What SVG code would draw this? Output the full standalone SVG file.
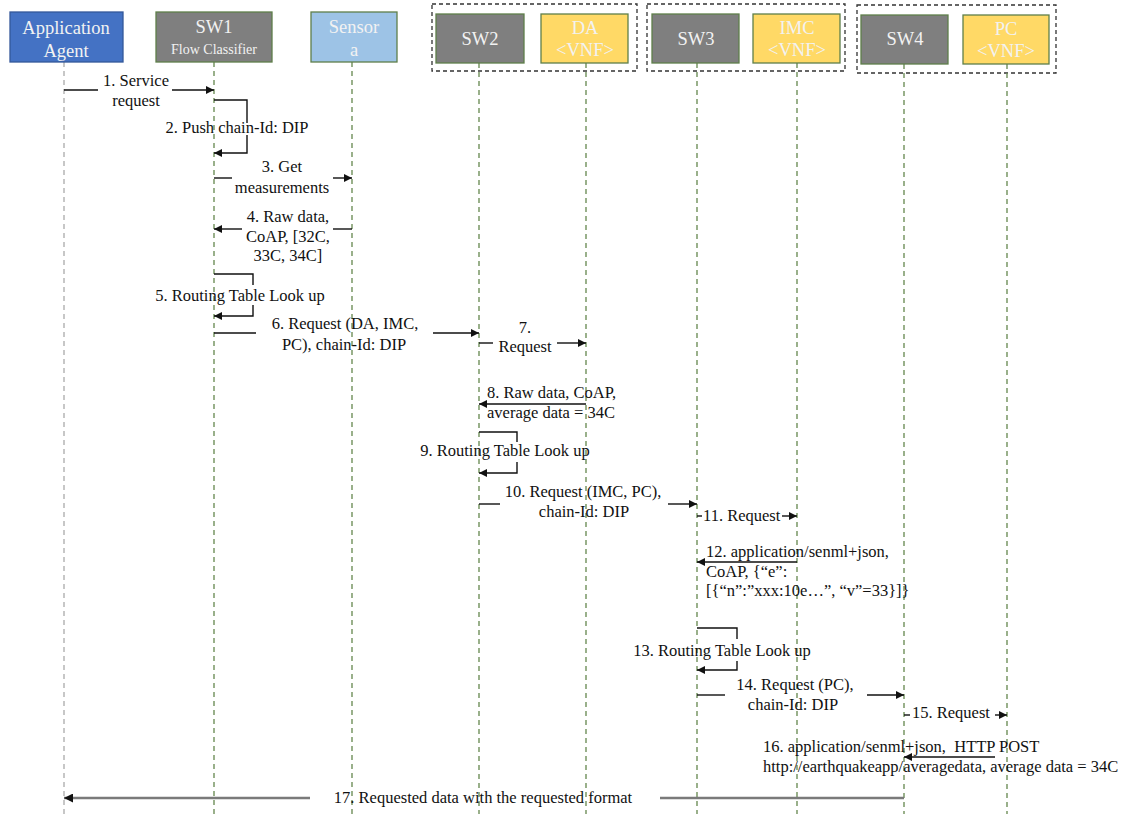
<svg xmlns="http://www.w3.org/2000/svg" width="1123" height="814" viewBox="0 0 1123 814">
<style>
.t{font-family:"Liberation Serif","Times New Roman",serif;font-size:16.5px;fill:#111}
.h{font-family:"Liberation Serif","Times New Roman",serif;font-size:18.5px;fill:#f2f2f2;text-anchor:middle}
.s{font-family:"Liberation Serif","Times New Roman",serif;font-size:14px;fill:#f2f2f2;text-anchor:middle}
.m{text-anchor:middle}
.box{stroke:#5f7f4a;stroke-width:1.3}
.grp{fill:none;stroke:#333;stroke-width:1.3;stroke-dasharray:4,3}
.ll{stroke:#6f8f5a;stroke-width:1.4;stroke-dasharray:5,4;fill:none}
.msg{stroke:#111;stroke-width:1.4;fill:none}
.arr{marker-end:url(#ah)}
</style>
<defs>
<marker id="ah" viewBox="0 0 10 10" refX="10" refY="5" markerWidth="9" markerHeight="8" markerUnits="userSpaceOnUse" orient="auto">
<path d="M0,0 L10,5 L0,10 z" fill="#111"/>
</marker>
<marker id="ah2" viewBox="0 0 10 10" refX="10" refY="5" markerWidth="10" markerHeight="9" markerUnits="userSpaceOnUse" orient="auto">
<path d="M0,0 L10,5 L0,10 z" fill="#111"/>
</marker>
</defs>
<rect width="1123" height="814" fill="#fff"/>

<g id="groups">
<rect class="grp" x="432" y="4" width="205" height="67"/>
<rect class="grp" x="647" y="4" width="198" height="67"/>
<rect class="grp" x="857" y="5" width="199" height="68"/>
</g>

<g id="lifelines">
<line class="ll" x1="64" y1="62" x2="64" y2="814" style="stroke:#b0b0b0"/>
<line class="ll" x1="214" y1="62" x2="214" y2="814"/>
<line class="ll" x1="352" y1="62" x2="352" y2="814"/>
<line class="ll" x1="479" y1="63" x2="479" y2="814"/>
<line class="ll" x1="586" y1="63" x2="586" y2="814"/>
<line class="ll" x1="697" y1="63" x2="697" y2="814"/>
<line class="ll" x1="797" y1="63" x2="797" y2="814"/>
<line class="ll" x1="904" y1="64" x2="904" y2="814"/>
<line class="ll" x1="1007" y1="64" x2="1007" y2="814"/>
</g>

<g id="app-agent">
<rect class="box" x="10" y="12" width="113" height="50" fill="#4472C4" style="stroke:#34589a"/>
<text class="h" x="66" y="34">Application</text>
<text class="h" x="66" y="57">Agent</text>
</g>
<g id="sw1">
<rect class="box" x="156" y="12" width="116" height="50" fill="#7F7F7F"/>
<text class="h" x="214" y="33">SW1</text>
<text class="s" x="214" y="54">Flow Classifier</text>
</g>
<g id="sensor">
<rect class="box" x="311" y="12" width="86" height="50" fill="#9DC3E6"/>
<text class="h" x="354" y="33">Sensor</text>
<text class="h" x="354" y="56">a</text>
</g>
<g id="sw2">
<rect class="box" x="436" y="14" width="88" height="49" fill="#7F7F7F"/>
<text class="h" x="480" y="45">SW2</text>
</g>
<g id="da">
<rect class="box" x="541" y="14" width="87" height="49" fill="#FFD966"/>
<text class="h" x="585" y="34">DA</text>
<text class="h" x="585" y="56">&lt;VNF&gt;</text>
</g>
<g id="sw3">
<rect class="box" x="652" y="14" width="87" height="49" fill="#7F7F7F"/>
<text class="h" x="696" y="45">SW3</text>
</g>
<g id="imc">
<rect class="box" x="753" y="14" width="87" height="49" fill="#FFD966"/>
<text class="h" x="797" y="34">IMC</text>
<text class="h" x="797" y="56">&lt;VNF&gt;</text>
</g>
<g id="sw4">
<rect class="box" x="861" y="15" width="87" height="49" fill="#7F7F7F"/>
<text class="h" x="905" y="45">SW4</text>
</g>
<g id="pc">
<rect class="box" x="963" y="15" width="86" height="49" fill="#FFD966"/>
<text class="h" x="1006" y="35">PC</text>
<text class="h" x="1006" y="57">&lt;VNF&gt;</text>
</g>

<g id="connectors">
<!-- 1 -->
<line class="msg" x1="64" y1="90" x2="98" y2="90"/>
<line class="msg arr" x1="172" y1="90" x2="214" y2="90"/>
<text class="t m" x="136" y="86">1. Service</text>
<text class="t m" x="136" y="106">request</text>
<!-- 2 -->
<polyline class="msg" points="214,100 247,100 247,123"/>
<polyline class="msg arr" points="247,135 247,153 214,153"/>
<text class="t m" x="237" y="133">2. Push chain-Id: DIP</text>
<!-- 3 -->
<line class="msg" x1="214" y1="178" x2="232" y2="178"/>
<line class="msg arr" x1="333" y1="178" x2="352" y2="178"/>
<text class="t m" x="282" y="172">3. Get</text>
<text class="t m" x="282" y="193">measurements</text>
<!-- 4 -->
<line class="msg" x1="352" y1="229" x2="333" y2="229"/>
<line class="msg arr" x1="242" y1="229" x2="214" y2="229"/>
<text class="t m" x="288" y="222">4. Raw data,</text>
<text class="t m" x="288" y="242">CoAP, [32C,</text>
<text class="t m" x="288" y="261">33C, 34C]</text>
<!-- 5 -->
<polyline class="msg" points="214,274 253,274 253,285"/>
<polyline class="msg arr" points="253,305 253,316 214,316"/>
<text class="t m" x="240" y="301">5. Routing Table Look up</text>
<!-- 6 -->
<line class="msg" x1="214" y1="333" x2="256" y2="333"/>
<line class="msg arr" x1="433" y1="333" x2="479" y2="333"/>
<text class="t m" x="345" y="329">6. Request (DA, IMC,</text>
<text class="t m" x="344" y="350">PC), chain-Id: DIP</text>
<!-- 7 -->
<line class="msg" x1="479" y1="343" x2="493" y2="343"/>
<line class="msg arr" x1="557" y1="343" x2="586" y2="343"/>
<text class="t m" x="525" y="333">7.</text>
<text class="t m" x="525" y="352">Request</text>
<!-- 8 -->
<line class="msg arr" x1="586" y1="404" x2="479" y2="404"/>
<text class="t" x="487" y="398">8. Raw data, CoAP,</text>
<text class="t" x="487" y="418">average data = 34C</text>
<!-- 9 -->
<polyline class="msg" points="479,432 517,432 517,442"/>
<polyline class="msg arr" points="517,462 517,473 479,473"/>
<text class="t m" x="505" y="456">9. Routing Table Look up</text>
<!-- 10 -->
<line class="msg" x1="479" y1="504" x2="500" y2="504"/>
<line class="msg arr" x1="668" y1="504" x2="697" y2="504"/>
<text class="t m" x="583" y="497">10. Request (IMC, PC),</text>
<text class="t m" x="584" y="517">chain-Id: DIP</text>
<!-- 11 -->
<line class="msg" x1="697" y1="516" x2="702" y2="516"/>
<line class="msg arr" x1="782" y1="516" x2="797" y2="516"/>
<text class="t" x="703" y="521">11. Request</text>
<!-- 12 -->
<line class="msg arr" x1="797" y1="562" x2="697" y2="562"/>
<text class="t" x="706" y="557">12. application/senml+json,</text>
<text class="t" x="706" y="577">CoAP, {“e”:</text>
<text class="t" x="706" y="596">[{“n”:”xxx:10e…”, “v”=33}]}</text>
<!-- 13 -->
<polyline class="msg" points="697,628 737,628 737,639"/>
<polyline class="msg arr" points="737,661 737,670 697,670"/>
<text class="t m" x="722" y="656">13. Routing Table Look up</text>
<!-- 14 -->
<line class="msg" x1="697" y1="695" x2="725" y2="695"/>
<line class="msg arr" x1="867" y1="695" x2="904" y2="695"/>
<text class="t m" x="795" y="690">14. Request (PC),</text>
<text class="t m" x="793" y="710">chain-Id: DIP</text>
<!-- 15 -->
<line class="msg" x1="904" y1="715" x2="910" y2="715"/>
<line class="msg arr" x1="995" y1="715" x2="1007" y2="715"/>
<text class="t" x="912" y="718">15. Request</text>
<!-- 16 -->
<line class="msg arr" x1="995" y1="757" x2="904" y2="757"/>
<text class="t" x="763" y="752">16. application/senml+json,&#160; HTTP POST</text>
<text class="t" x="763" y="772">http://earthquakeapp/averagedata, average data = 34C</text>
<!-- 17 -->
<line x1="904" y1="798" x2="660" y2="798" stroke="#7a7a7a" stroke-width="2.4"/>
<line x1="310" y1="798" x2="64" y2="798" stroke="#7a7a7a" stroke-width="2.4" marker-end="url(#ah2)"/>
<text class="t m" x="483" y="803">17. Requested data with the requested format</text>
</g>
</svg>
